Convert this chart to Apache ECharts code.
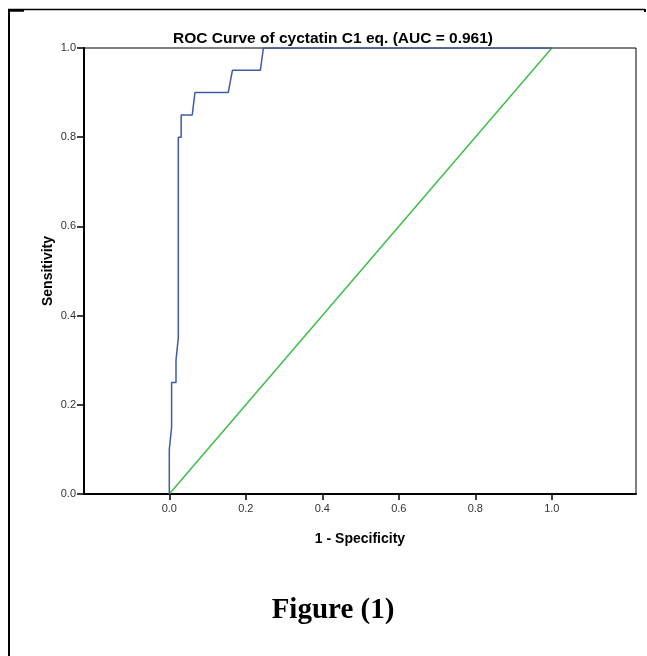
<!DOCTYPE html>
<html>
<head>
<meta charset="utf-8">
<script src="https://cdn.jsdelivr.net/npm/echarts@6/dist/echarts.min.js"></script>
<style>
html,body{margin:0;padding:0;background:#fff;}
#chart{width:647px;height:656px;}
</style>
</head>
<body>
<div id="chart"></div>
<script>
// ROC curve points (1 - Specificity, Sensitivity)
const rocFPR = [0, 0, 0.006, 0.006, 0.0175, 0.0175, 0.0235, 0.0235, 0.031, 0.031, 0.060, 0.067, 0.154, 0.165, 0.238, 0.246, 1.0];
const rocTPR = [0, 0.10, 0.15, 0.25, 0.25, 0.30, 0.35, 0.80, 0.80, 0.85, 0.85, 0.90, 0.90, 0.95, 0.95, 1.0, 1.0];
// Reference line
const refX = [0, 1];
const refY = [0, 1];
// Tick labels
const xTicks = [0, 0.2, 0.4, 0.6, 0.8, 1.0];
const yTicks = [0, 0.2, 0.4, 0.6, 0.8, 1.0];

const chart = echarts.init(document.getElementById('chart'), null, {renderer: 'canvas'});
const fontSans = 'Liberation Sans, Arial, sans-serif';

chart.setOption({
  animation: false,
  backgroundColor: '#ffffff',
  title: [
    {
      text: 'ROC Curve of cyctatin C1 eq. (AUC = 0.961)',
      left: 328, top: 26, textAlign: 'center',
      textStyle: {fontFamily: fontSans, fontSize: 15.5, fontWeight: 'bold', color: '#000'}
    },
    {
      text: 'Figure (1)',
      left: 328, top: 591, textAlign: 'center',
      textStyle: {fontFamily: 'Liberation Serif, Times New Roman, serif', fontSize: 29, fontWeight: 'bold', color: '#000'}
    }
  ],
  grid: {
    left: 84, right: 11, top: 48, bottom: 162,
    show: true, borderColor: '#000', borderWidth: 1, backgroundColor: 'transparent'
  },
  xAxis: {
    type: 'value',
    min: -0.223, max: 1.22,
    name: '1 - Specificity',
    nameLocation: 'middle', nameGap: 38,
    nameTextStyle: {fontFamily: fontSans, fontSize: 14, fontWeight: 'bold', color: '#000'},
    axisLine: {show: true, onZero: false, lineStyle: {color: '#000', width: 2}},
    axisTick: {show: true, inside: false, length: 6, customValues: xTicks, lineStyle: {color: '#000', width: 1.5}},
    axisLabel: {customValues: xTicks, formatter: v => v.toFixed(1), fontFamily: fontSans, fontSize: 11, color: '#333', margin: 9},
    splitLine: {show: false}
  },
  yAxis: {
    type: 'value',
    min: 0, max: 1, interval: 0.2,
    name: 'Sensitivity',
    nameLocation: 'middle', nameGap: 29, nameMoveOverlap: false,
    nameTextStyle: {fontFamily: fontSans, fontSize: 14, fontWeight: 'bold', color: '#000'},
    axisLine: {show: true, onZero: false, lineStyle: {color: '#000', width: 2}},
    axisTick: {show: true, inside: false, length: 7, customValues: yTicks, lineStyle: {color: '#000', width: 1.5}},
    axisLabel: {customValues: yTicks, formatter: v => v.toFixed(1), fontFamily: fontSans, fontSize: 11, color: '#333', margin: 8},
    splitLine: {show: false}
  },
  series: [
    {
      name: 'Reference Line',
      type: 'line',
      data: refX.map((x, i) => [x, refY[i]]),
      showSymbol: false,
      lineStyle: {color: '#3CBE4A', width: 1.5},
      z: 2
    },
    {
      name: 'ROC',
      type: 'line',
      data: rocFPR.map((x, i) => [x, rocTPR[i]]),
      showSymbol: false,
      lineStyle: {color: '#3F5BAA', width: 1.5},
      z: 3
    }
  ],
  graphic: [
    {type: 'line', shape: {x1: 8, y1: 9.5, x2: 645, y2: 9.5}, style: {stroke: '#000', lineWidth: 1.5}, silent: true},
    {type: 'line', shape: {x1: 9, y1: 9, x2: 9, y2: 656}, style: {stroke: '#000', lineWidth: 2}, silent: true},
    {type: 'line', shape: {x1: 8, y1: 10.5, x2: 24, y2: 10.5}, style: {stroke: '#000', lineWidth: 2.5}, silent: true},
    {type: 'line', shape: {x1: 645, y1: 9, x2: 645, y2: 12}, style: {stroke: '#000', lineWidth: 2}, silent: true}
  ]
});
</script>
</body>
</html>
